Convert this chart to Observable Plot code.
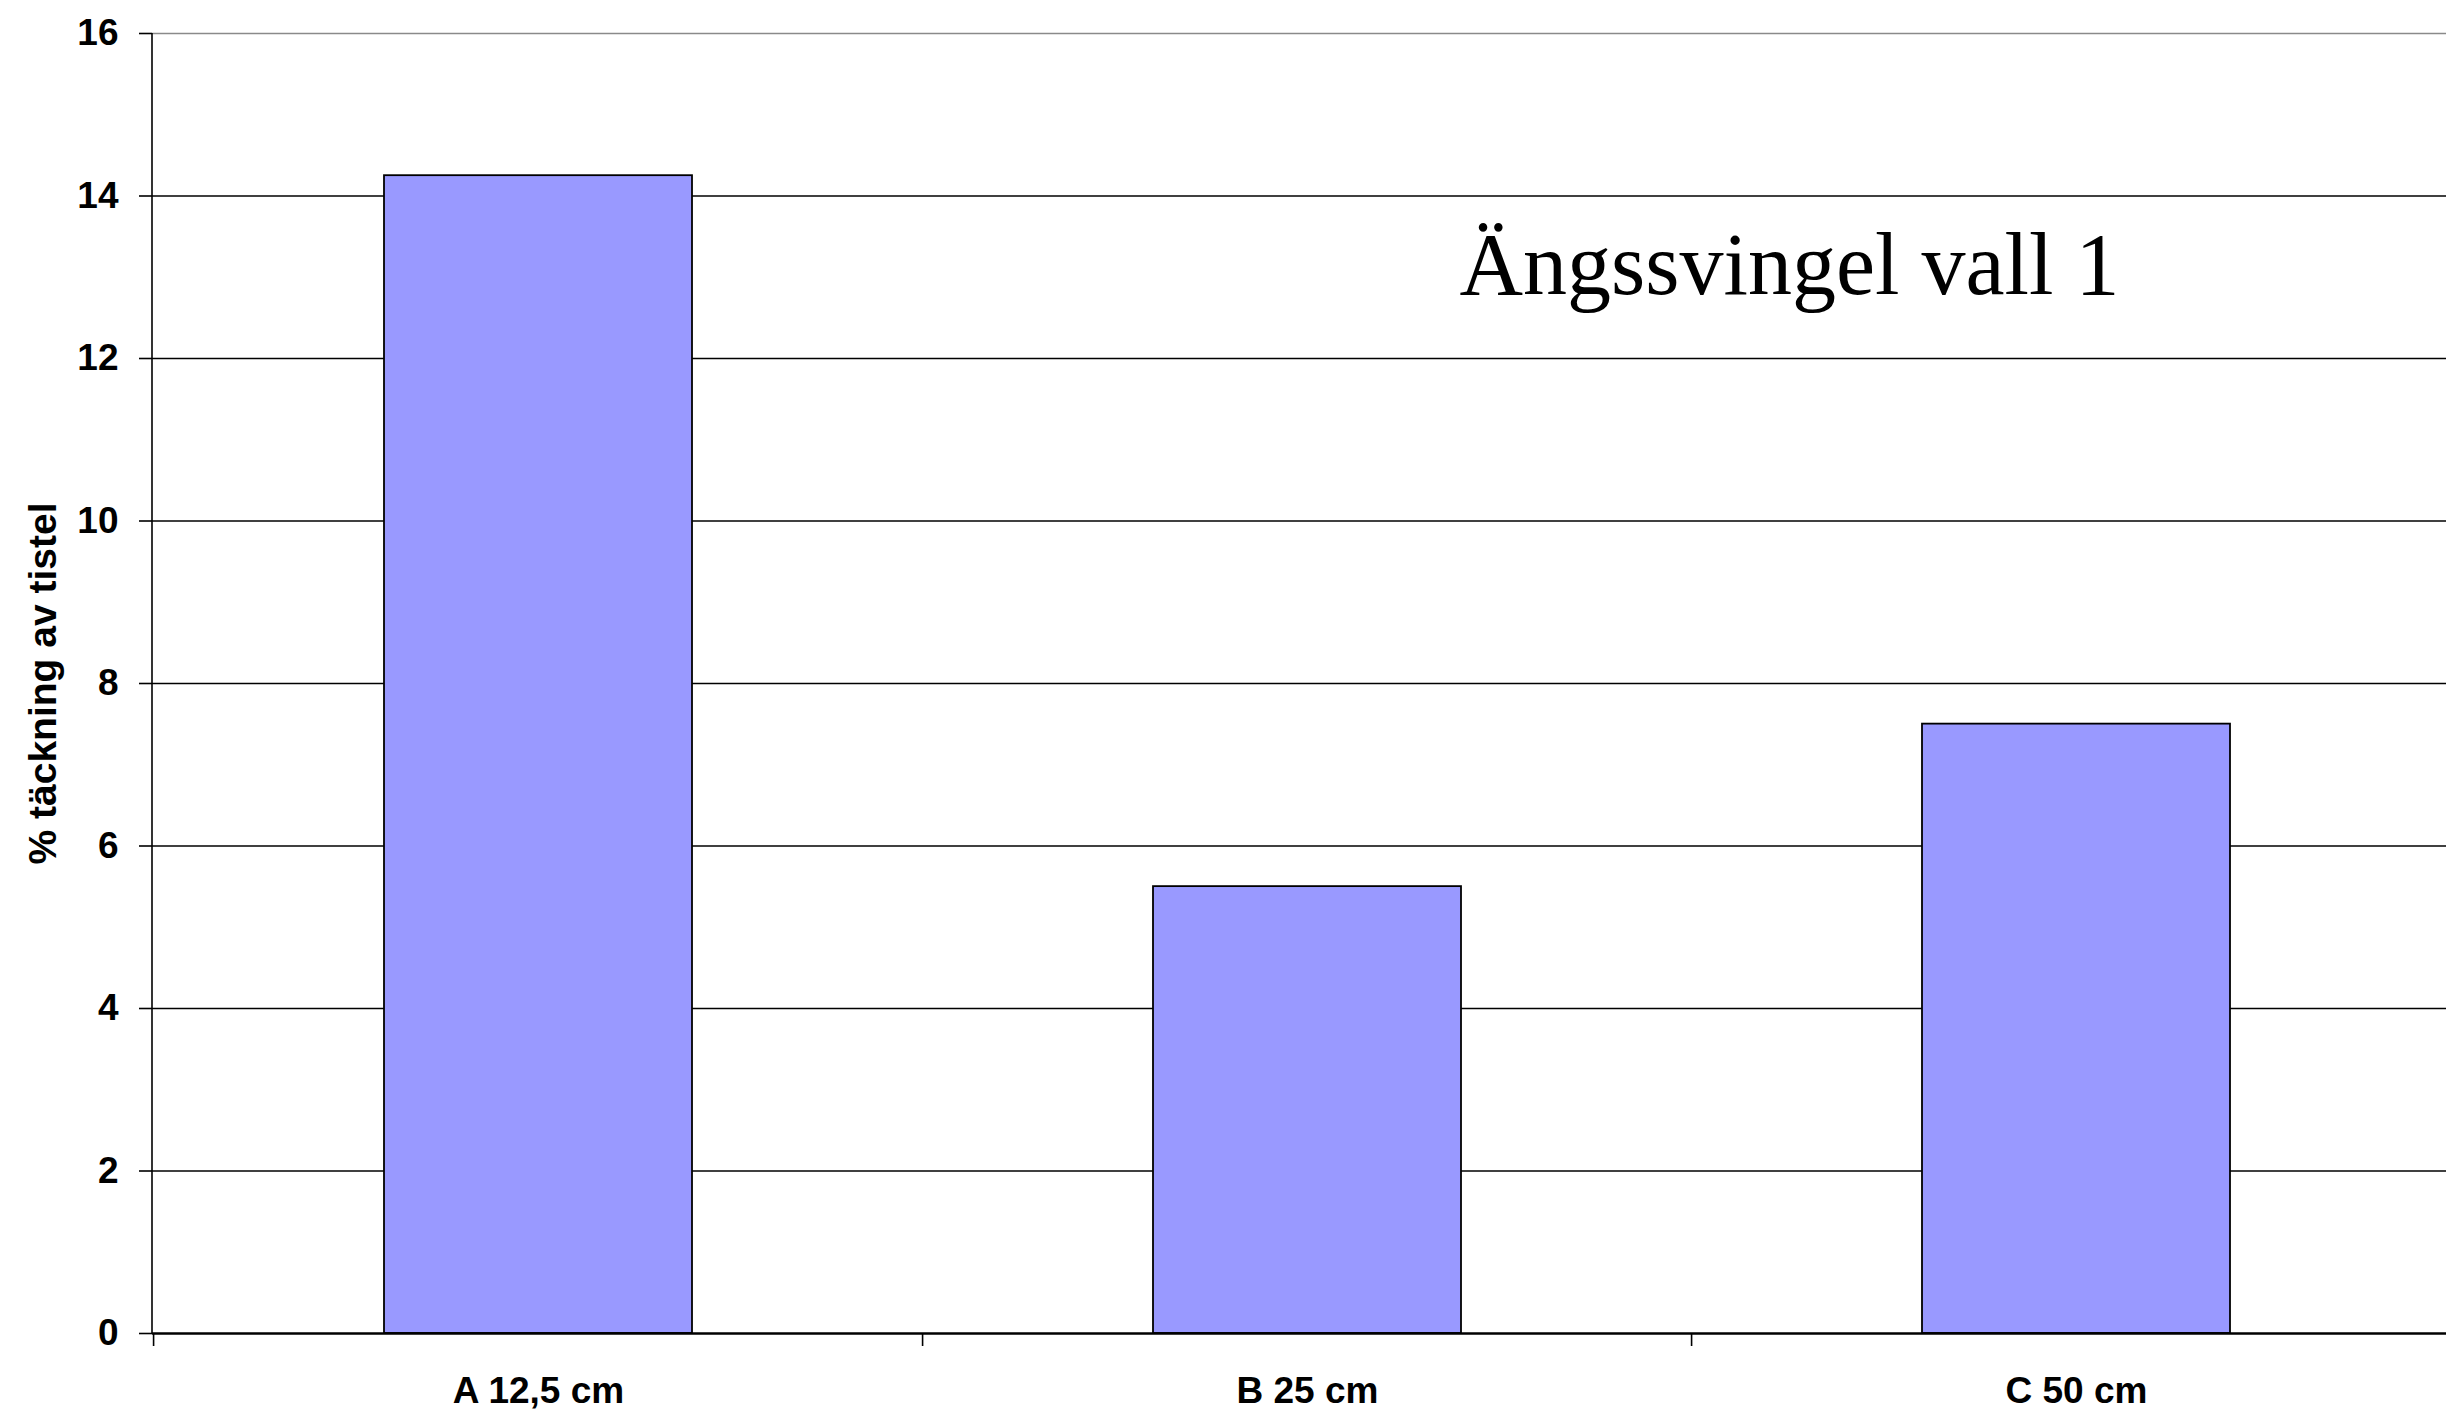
<!DOCTYPE html>
<html>
<head>
<meta charset="utf-8">
<script src="https://cdn.jsdelivr.net/npm/d3@7"></script>
<script src="https://cdn.jsdelivr.net/npm/@observablehq/plot@0.6"></script>
<style>
  html, body { margin: 0; padding: 0; background: #fff; overflow: hidden; }
  #wrap { position: relative; width: 2446px; height: 1412px; }
  #title {
    position: absolute; left: 1398px; top: 197px; width: 783px; height: 135px;
    background: #fff; text-align: center; box-sizing: border-box; padding-top: 19px;
    font-family: "Liberation Serif", "Times New Roman", serif; font-size: 88px; line-height: 1.107;
    color: #000; white-space: nowrap;
  }
</style>
</head>
<body>
<div id="wrap"></div>
<script>
const categories = ["A 12,5 cm", "B 25 cm", "C 50 cm"];
const values = [14.25, 5.5, 7.5];
const yTicks = [0, 2, 4, 6, 8, 10, 12, 14, 16];
const yLabel = "% täckning av tistel";
const chartTitle = "Ängssvingel vall 1";

const data = categories.map((c, i) => ({category: c, value: values[i]}));

const W = 2446, H = 1412;
const mL = 152, mT = 33, mB = 79;
const xRange = [152.5, 2462];
const step = (xRange[1] - xRange[0]) / categories.length;

const yAxisLine = (index, scales, values, dims) => {
  const g = d3.create("svg:line")
    .attr("x1", dims.marginLeft).attr("x2", dims.marginLeft)
    .attr("y1", scales.y(16)).attr("y2", scales.y(0))
    .attr("stroke", "#000").attr("stroke-width", 1.6);
  return g.node();
};

const chart = Plot.plot({
  width: W,
  height: H,
  marginLeft: mL,
  marginRight: 0,
  marginTop: mT,
  marginBottom: mB,
  style: {fontFamily: "'Liberation Sans', Arial, sans-serif", background: "#fff", color: "#000"},
  x: {domain: categories, range: xRange, paddingInner: 0.6, paddingOuter: 0.3, label: null},
  y: {domain: [0, 16], label: null},
  marks: [
    Plot.gridY(yTicks.filter(t => t > 0 && t < 16), {stroke: "#000", strokeOpacity: 1, strokeWidth: 1.4}),
    Plot.ruleY([16], {stroke: "#8a8a8a", strokeWidth: 1.6}),
    Plot.barY(data, {x: "category", y: "value", fill: "#9999FF", stroke: "#000", strokeWidth: 1.8}),
    Plot.ruleY([0], {stroke: "#000", strokeWidth: 2.6}),
    yAxisLine,
    Plot.axisY(yTicks, {
      tickSize: 13, tickPadding: 21, fontSize: 37, fontWeight: "bold", stroke: "#000",
      strokeWidth: 1.6, tickFormat: d3.format("d"),
      label: yLabel, labelAnchor: "center", labelArrow: "none", labelOffset: 124
    }),
    Plot.axisX(categories, {
      tickSize: 13, tickFormat: () => "", dx: -step / 2, stroke: "#000", strokeWidth: 1.6
    }),
    Plot.axisX(categories, {
      tickSize: 0, tickPadding: 43, fontSize: 37, fontWeight: "bold", label: null
    })
  ]
});

const wrap = document.getElementById("wrap");
wrap.appendChild(chart);
chart.querySelectorAll("[aria-label='y-axis label']").forEach(el => {
  el.setAttribute("font-size", 39);
  el.setAttribute("font-weight", "bold");
  el.querySelectorAll("text").forEach(t => { t.setAttribute("font-size", 39); t.setAttribute("font-weight", "bold"); });
});
const t = document.createElement("div");
t.id = "title";
t.textContent = chartTitle;
wrap.appendChild(t);
</script>
</body>
</html>
